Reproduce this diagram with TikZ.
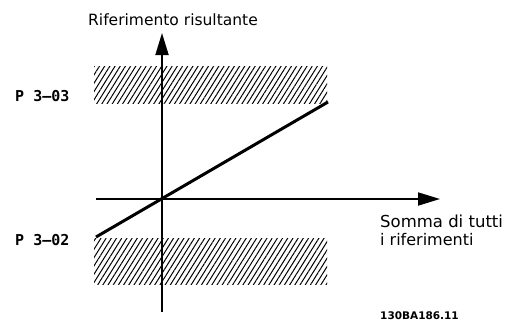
\documentclass[tikz,border=0pt]{standalone}
\usepackage{fontspec}
\setmainfont{DejaVu Sans}
\setmonofont{DejaVu Sans Mono}
\usetikzlibrary{arrows.meta,patterns.meta}

\tikzset{
  axis/.style={line width=1.8pt, -{Triangle[length=22pt,width=13pt]}},
  band/.style={pattern={Lines[angle=58,distance=4.4pt,line width=1pt]}},
  lbl/.style={inner sep=0pt, font=\fontsize{15.5}{18}\selectfont},
  parm/.style={inner sep=0pt, font=\fontsize{15}{17}\ttfamily\bfseries}
}

\begin{document}
\begin{tikzpicture}[x=1pt,y=-1pt]
\useasboundingbox (0,0) rectangle (511,325);

% hatched limits
\fill[band] (94,66) rectangle (327,103);
\fill[band] (94,238) rectangle (327,284);

\coordinate (o) at (162,199);
\coordinate (ybot) at (162,312);
\coordinate (ytop) at (162,33);
\coordinate (xl) at (96,199);
\coordinate (xr) at (440,199);
\coordinate (lo) at (96,237);
\coordinate (hi) at (328,102);

\draw[axis] (ybot) -- (ytop);
\draw[axis] (xl) -- (xr);
\draw[line width=3pt] (lo) -- (hi);

\node[lbl, anchor=base west] (yt) at (88,25) {Riferimento risultante};
\node[parm, anchor=base west] (pmax) at (15,101) {P 3–03};
\node[parm, anchor=base west] (pmin) at (15,245) {P 3–02};
\node[lbl, anchor=base west, font=\fontsize{16.5}{19}\selectfont] (xt1) at (380,227) {Somma di tutti};
\node[lbl, anchor=base west, font=\fontsize{16}{19}\selectfont] (xt2) at (380,245) {i riferimenti};
\node[inner sep=0pt, anchor=base west, font=\fontsize{10.5}{12}\selectfont\bfseries] (code) at (380,319) {130BA186.11};
\end{tikzpicture}
\end{document}
